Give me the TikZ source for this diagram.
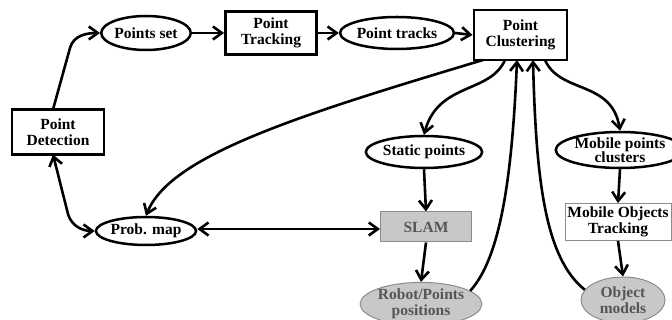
\documentclass[tikz,border=0pt]{standalone}
\usepackage{fontspec}
\setmainfont{Liberation Serif}
\usetikzlibrary{arrows.meta,shapes.geometric}
\definecolor{nodegray}{RGB}{200,200,200}
\definecolor{edgegray}{RGB}{140,140,140}
\definecolor{txtgray}{RGB}{85,85,85}
\tikzset{
  every node/.style={font=\fontsize{15.5}{16.5}\selectfont\bfseries, align=center, inner sep=0pt},
  rbox/.style={draw, rectangle, line width=2.8pt},
  oval/.style={draw, ellipse, line width=2.5pt},
  graybox/.style={draw=edgegray, fill=nodegray, rectangle, line width=1pt, text=txtgray},
  grayoval/.style={draw=edgegray, fill=nodegray, ellipse, line width=1pt, text=txtgray},
  thinbox/.style={draw=edgegray, rectangle, line width=0.8pt},
  conn/.style={line width=2.6pt, -{Straight Barb[length=9pt,width=13pt]}},
  dconn/.style={line width=2.6pt, {Straight Barb[length=9pt,width=13pt]}-{Straight Barb[length=9pt,width=13pt]}},
}
\begin{document}
\begin{tikzpicture}[x=1pt,y=1pt]
\useasboundingbox (0,0) rectangle (672,320);
\begin{scope}
\clip (0,0) rectangle (672,320);
% nodes
\node[rbox, minimum width=92pt, minimum height=45pt] (det) at (58,188) {Point\\Detection};
\node[oval, minimum width=84pt, minimum height=34pt] (pset) at (146,287) {Points set};
\node[rbox, minimum width=91pt, minimum height=43pt] (ptrack) at (271,287) {Point\\Tracking};
\node[oval, minimum width=86pt, minimum height=32pt] (ptracks) at (397,287) {Point tracks};
\node[rbox, minimum width=93pt, minimum height=50pt] (pclust) at (520.5,285) {Point\\Clustering};
\node[oval, minimum width=90pt, minimum height=32pt] (static) at (424,168) {Static points};
\node[graybox, minimum width=91pt, minimum height=30pt] (slam) at (426,93) {SLAM};
\node[grayoval, minimum width=92pt, minimum height=42pt] (robot) at (421,16) {Robot/Points\\positions};
\node[oval, minimum width=100pt, minimum height=34pt] (mobile) at (620,170) {Mobile points\\[-2pt]clusters};
\node[thinbox, minimum width=106pt, minimum height=37pt] (mot) at (618,98) {Mobile Objects\\Tracking};
\node[grayoval, minimum width=84pt, minimum height=46pt] (objm) at (623,20) {Object\\models};
\node[oval, minimum width=82pt, minimum height=28pt] (pmap) at (146,89) {Prob. map};
% connectors
\coordinate (d1) at (53,165.5);
\coordinate (d2) at (53,210.5);
\draw[conn] (d2) -- (70,272) to[out=75,in=180] (pset.west);
\draw[conn] (pset.east) -- (ptrack.west);
\draw[conn] (ptrack.east) -- (ptracks.west);
\draw[conn] (ptracks.east) -- (pclust.west);
\draw[dconn] (d1) -- (68,106) to[out=-74,in=180] (pmap.west);
\coordinate (c1) at (483,260);
\coordinate (c2) at (505,260);
\coordinate (c3) at (517,260);
\coordinate (c4) at (533,260);
\coordinate (c5) at (545,260);
\draw[conn] (c1) .. controls (300,205) and (170,165) .. (pmap.north);
\draw[conn] (c2) .. controls (490,226) and (438,238) .. (static.north);
\draw[conn] (static.south) -- (slam.north);
\draw[dconn] ([yshift=2pt]pmap.east) -- ([yshift=-2pt]slam.west);
\draw[conn] (slam.south) -- (robot.north);
\coordinate (r1) at (robot.15);
\draw[conn] (r1) .. controls (500,62) and (512,140) .. (c3);
\coordinate (o1) at (objm.165);
\draw[conn] (o1) .. controls (545,62) and (536,140) .. (c4);
\draw[conn] (c5) .. controls (560,226) and (612,240) .. (mobile.north);
\draw[conn] (mobile.south) -- (mot.north);
\draw[conn] (mot.south) -- (objm.north);
\end{scope}
\end{tikzpicture}
\end{document}
